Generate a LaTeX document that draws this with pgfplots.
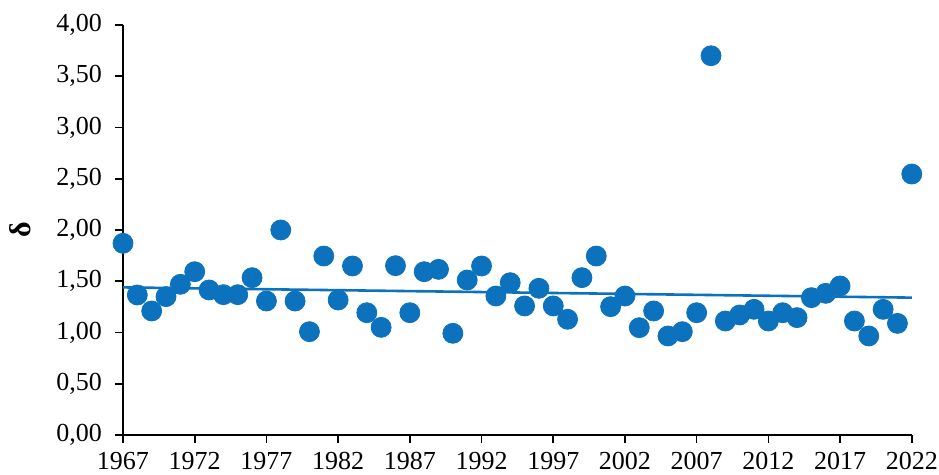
\documentclass[border=0pt]{standalone}
\usepackage{pgfplots}
\pgfplotsset{compat=1.18}
\usepackage{fontspec}
\setmainfont{Liberation Serif}
\definecolor{ptblue}{RGB}{12,114,189}
\begin{document}
\fontsize{13}{15}\selectfont
\begin{tikzpicture}
\useasboundingbox (-61.5pt,-20pt) rectangle (408pt,217.5pt);
\begin{axis}[
 at={(0,0)}, anchor=south west,
 scale only axis, width=394.4pt, height=205pt,
 xmin=1967, xmax=2022, ymin=0, ymax=4,
 axis x line=bottom, axis y line=left,
 axis line style={-, black, line width=0.8pt},
 xtick={1967,1972,...,2022}, ytick={0,0.5,...,4},
 tick align=outside, major tick length=4pt,
 tick style={black, line width=0.8pt},
 x tick label style={/pgf/number format/1000 sep={}},
 y tick label style={xshift=-2pt, /pgf/number format/.cd, fixed, fixed zerofill, precision=2, use comma},
 /pgf/number format/assume math mode=true,
 ticklabel style={font=\fontsize{13}{15}\selectfont},
 ylabel={\textbf{δ}},
 ylabel style={at={(axis description cs:-0.1306,0.5)}, anchor=center, font=\fontsize{15}{17}\selectfont},
 clip=false,
]
\addplot[only marks, mark=*, mark size=5pt, mark options={draw=ptblue, fill=ptblue}] coordinates {
(1967,1.870)(1968,1.366)(1969,1.21)(1970,1.35)(1971,1.47)(1972,1.593)(1973,1.415)(1974,1.369)(1975,1.369)(1976,1.535)
(1977,1.307)(1978,2.00)(1979,1.307)(1980,1.008)(1981,1.746)(1982,1.317)(1983,1.649)(1984,1.193)(1985,1.05)(1986,1.652)
(1987,1.193)(1988,1.593)(1989,1.616)(1990,0.992)(1991,1.512)(1992,1.649)(1993,1.356)(1994,1.486)(1995,1.259)(1996,1.431)
(1997,1.259)(1998,1.129)(1999,1.535)(2000,1.746)(2001,1.252)(2002,1.356)(2003,1.047)(2004,1.21)(2005,0.966)(2006,1.008)
(2007,1.193)(2008,3.70)(2009,1.112)(2010,1.171)(2011,1.226)(2012,1.112)(2013,1.193)(2014,1.145)(2015,1.34)(2016,1.382)
(2017,1.454)(2018,1.112)(2019,0.966)(2020,1.226)(2021,1.089)(2022,2.546)
};
\addplot[ptblue, line width=1.3pt] coordinates {(1967,1.44)(2022,1.34)};
\end{axis}
\end{tikzpicture}
\end{document}
